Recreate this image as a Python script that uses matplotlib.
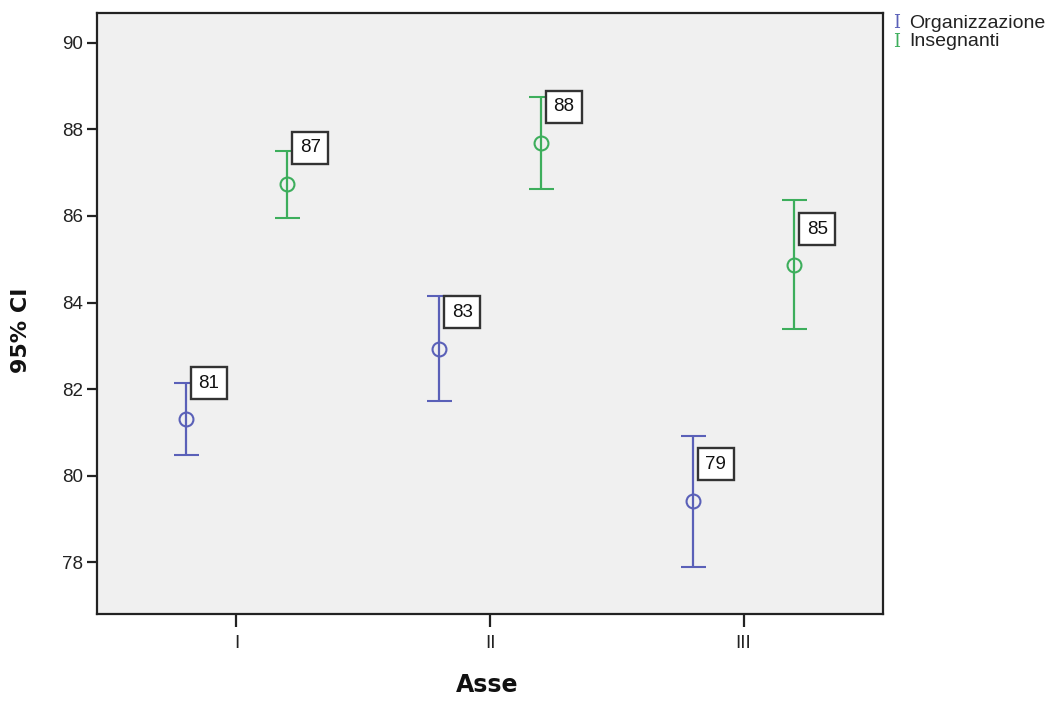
import matplotlib
matplotlib.use("Agg")
import matplotlib.pyplot as plt
import numpy as np

# ---- data ----
categories = ["I", "II", "III"]
series_names = ["Organizzazione", "Insegnanti"]
org_mean = [81.31, 82.94, 79.41]
org_low = [80.47, 81.73, 77.89]
org_high = [82.14, 84.15, 80.91]
ins_mean = [86.73, 87.68, 84.86]
ins_low = [85.95, 86.62, 83.39]
ins_high = [87.50, 88.75, 86.37]
y_ticks = [78, 80, 82, 84, 86, 88, 90]

# ---- style / layout ----
colors = ["#5a60b8", "#3dae5c"]
group_offset = [-0.2, 0.2]
# vertical label offsets (points) relative to upper CI, per series per category
label_dy = [[0, -11.5, -20], [2.5, -7, -21]]

W, H = 1063, 701
fig = plt.figure(figsize=(W / 100, H / 100), dpi=100)
ax = fig.add_axes([97 / W, 1 - 614 / H, (883 - 97) / W, (614 - 13.3) / H])
ax.set_facecolor("#f0f0f0")

x = np.arange(1, len(categories) + 1)
means = [org_mean, ins_mean]
lows = [org_low, ins_low]
highs = [org_high, ins_high]

for s in range(2):
    m = np.array(means[s])
    lo = np.array(lows[s])
    hi = np.array(highs[s])
    xs = x + group_offset[s]
    ax.errorbar(xs, m, yerr=[m - lo, hi - m], fmt="o", mfc="none", mec=colors[s],
                ms=10, mew=1.5, ecolor=colors[s], elinewidth=1.6, capsize=9,
                capthick=1.6, zorder=3)
    for i in range(len(xs)):
        ax.annotate(f"{int(round(m[i]))}", xy=(xs[i], hi[i]), xytext=(9.0, label_dy[s][i]),
                    textcoords="offset points", ha="left", va="center",
                    fontsize=13.5, family="Liberation Sans", color="#111111",
                    bbox=dict(boxstyle="square,pad=0.4", fc="white", ec="#333333", lw=1.7),
                    zorder=4)

ax.set_xlim(0.45, 3.55)
ax.set_ylim(76.81, 90.68)
ax.set_xticks(x)
ax.set_xticklabels(categories)
ax.set_yticks(y_ticks)
for spine in ax.spines.values():
    spine.set_linewidth(1.6)
    spine.set_color("#222222")
ax.tick_params(axis="both", direction="out", length=7, width=1.6, color="#222222",
               labelsize=13.5, labelcolor="#222222", pad=3)
ax.tick_params(axis="x", length=9, pad=6)
for lab in ax.get_xticklabels() + ax.get_yticklabels():
    lab.set_family("Liberation Sans")

ax.set_xlabel("Asse", fontsize=17, fontweight="bold", family="DejaVu Sans", color="#111111",
              va="center")
ax.xaxis.set_label_coords((487 - 97) / (883 - 97), -(685 - 614) / (614 - 13.3))
ax.set_ylabel("95% CI", fontsize=16, fontweight="bold", family="DejaVu Sans", color="#111111",
              va="center")
ax.yaxis.set_label_coords(-(97 - 21) / (883 - 97), (614 - 330) / (614 - 13.3))

# legend
leg_y = [23, 42]
for s, name in enumerate(series_names):
    fig.text(897 / W, 1 - leg_y[s] / H, "I", color=colors[s], family="DejaVu Serif",
             fontsize=13, ha="center", va="center")
    fig.text(909 / W, 1 - leg_y[s] / H, name, color="#222222", family="Liberation Sans",
             fontsize=14, ha="left", va="center")

fig.savefig("out.png", dpi=100, facecolor="white")
